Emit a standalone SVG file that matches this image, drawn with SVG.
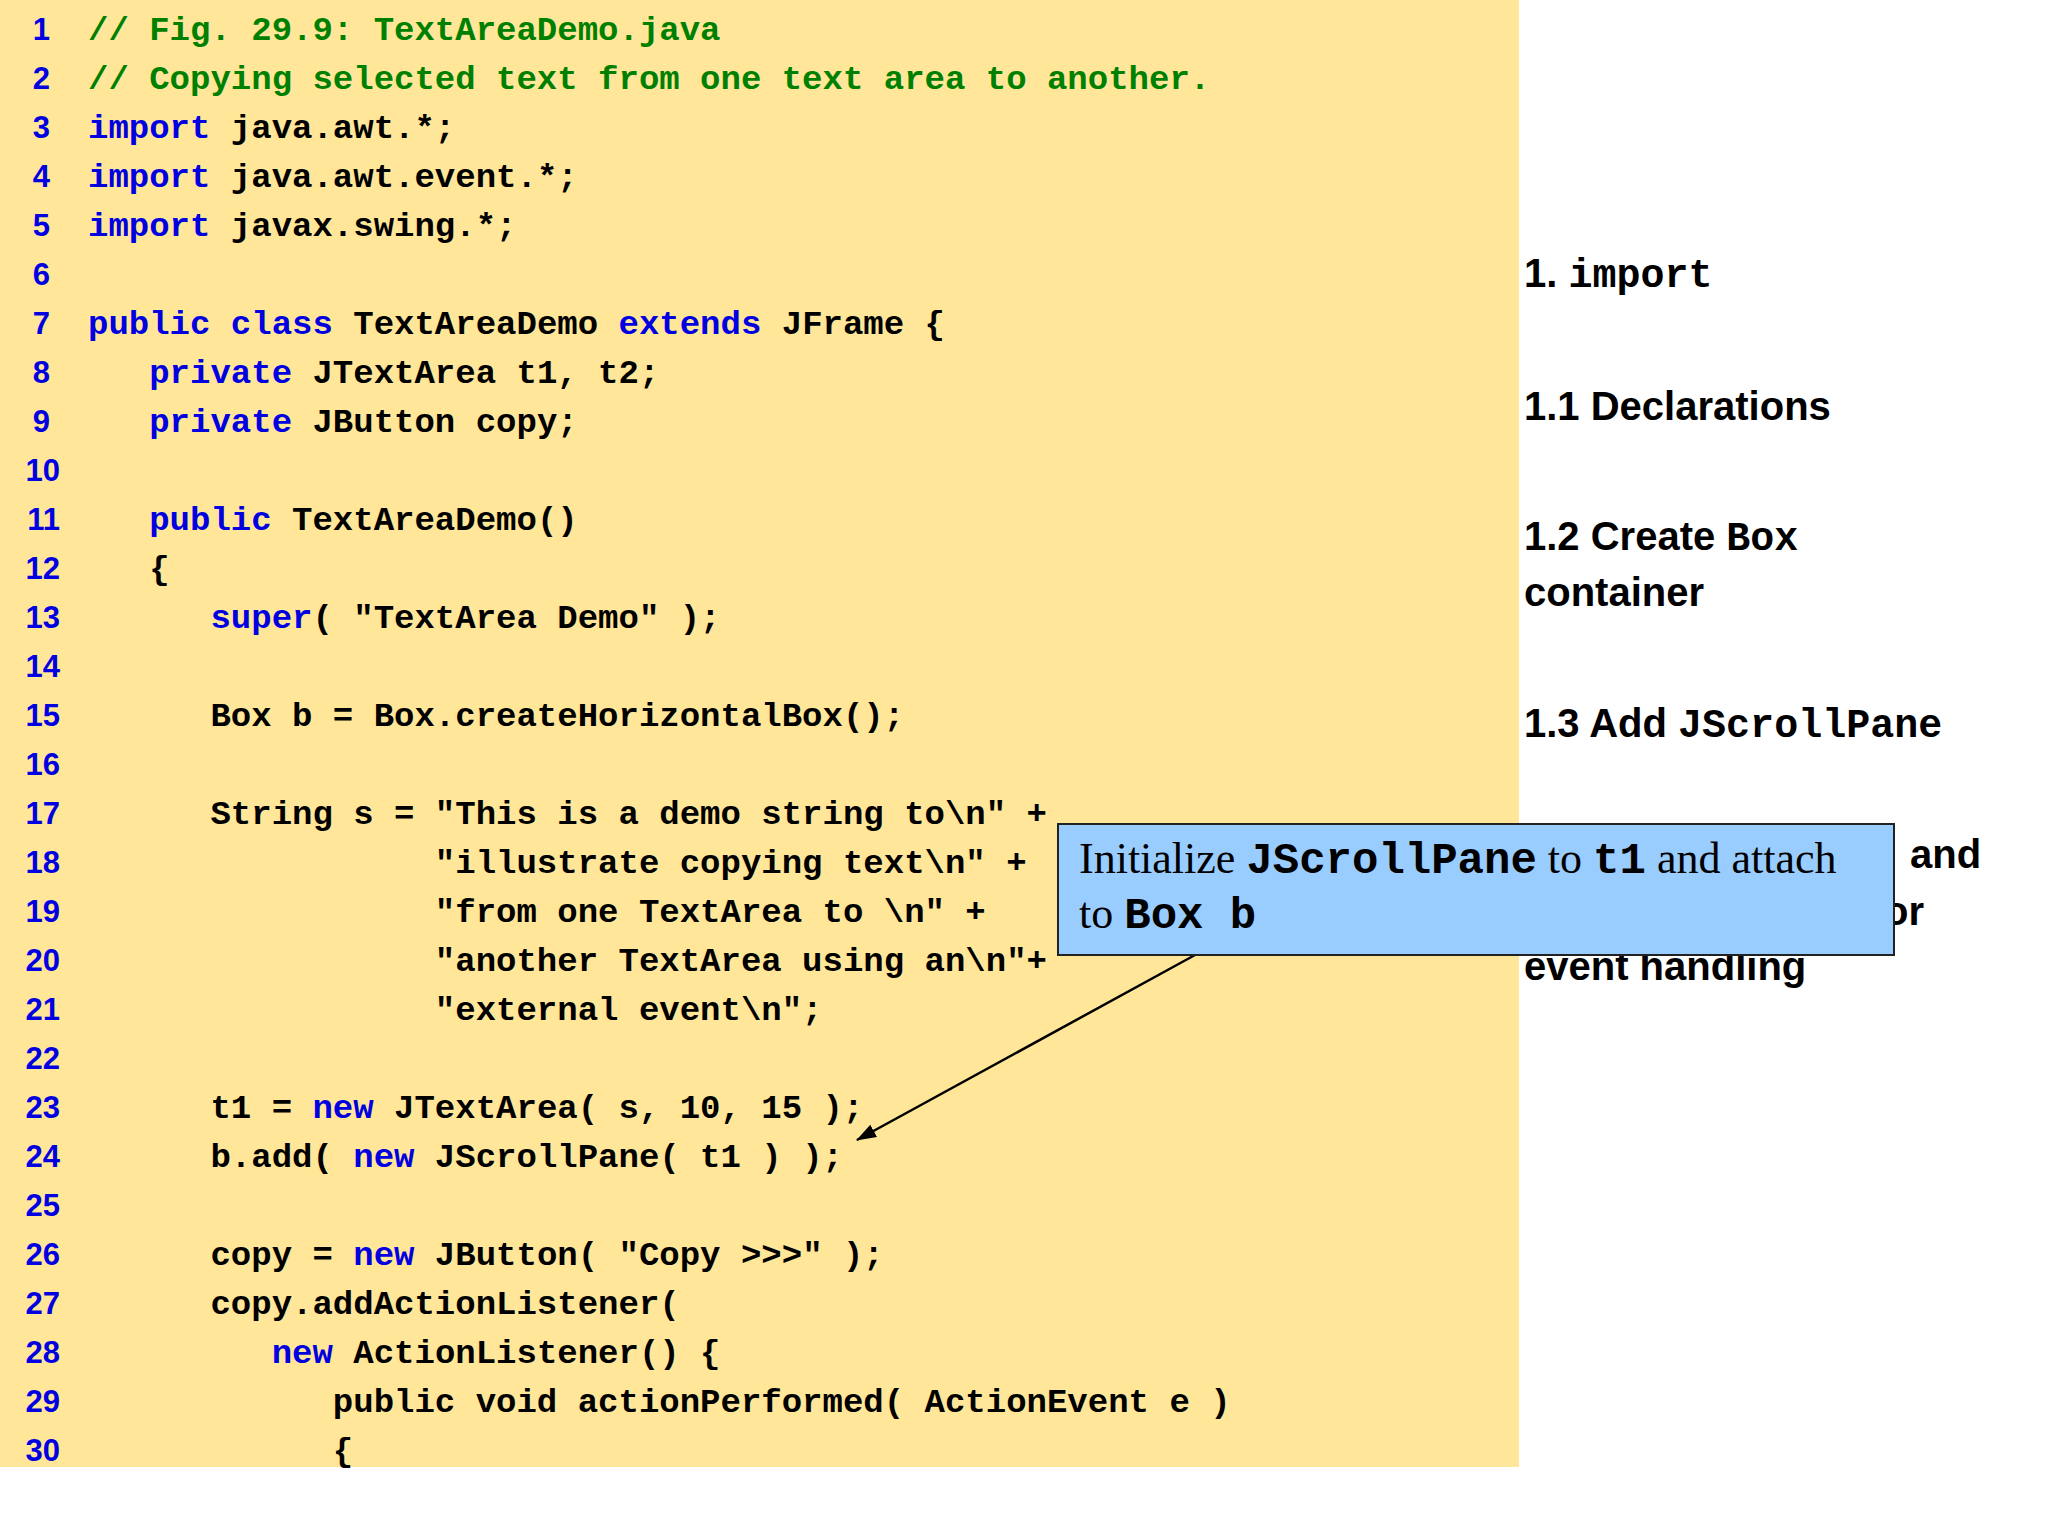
<svg xmlns="http://www.w3.org/2000/svg" width="2048" height="1536" viewBox="0 0 2048 1536">
<style>
.n{font-family:"Liberation Sans",Arial,sans-serif;font-weight:bold;font-size:31px;fill:#0000E0;text-anchor:end}
.c{font-family:"Liberation Mono","Courier New",monospace;font-weight:bold;font-size:34px;fill:#000;white-space:pre}
.k{fill:#0000E0}.g{fill:#008000}
.r{font-family:"Liberation Sans",Arial,sans-serif;font-weight:bold;font-size:40px;fill:#000}
.m{font-family:"Liberation Mono","Courier New",monospace !important;font-weight:bold}
.t{font-family:"Liberation Serif","Times New Roman",serif;font-size:44px;fill:#000}
</style>
<defs><marker id="ah" markerWidth="20" markerHeight="14" refX="19" refY="7" orient="auto" markerUnits="userSpaceOnUse"><path d="M0,0 L20,7 L0,14 z" fill="#000"/></marker></defs>
<rect width="2048" height="1536" fill="#fff"/>
<g id="code">
<rect x="0" y="0" width="1519" height="1467" fill="#FFE699"/>
<g>
<text class="n" x="50" y="40">1</text><text class="n" x="50" y="89">2</text><text class="n" x="50" y="138">3</text><text class="n" x="50" y="187">4</text><text class="n" x="50" y="236">5</text><text class="n" x="50" y="285">6</text><text class="n" x="50" y="334">7</text><text class="n" x="50" y="383">8</text><text class="n" x="50" y="432">9</text><text class="n" x="60" y="481">10</text><text class="n" x="60" y="530">11</text><text class="n" x="60" y="579">12</text><text class="n" x="60" y="628">13</text><text class="n" x="60" y="677">14</text><text class="n" x="60" y="726">15</text><text class="n" x="60" y="775">16</text><text class="n" x="60" y="824">17</text><text class="n" x="60" y="873">18</text><text class="n" x="60" y="922">19</text><text class="n" x="60" y="971">20</text><text class="n" x="60" y="1020">21</text><text class="n" x="60" y="1069">22</text><text class="n" x="60" y="1118">23</text><text class="n" x="60" y="1167">24</text><text class="n" x="60" y="1216">25</text><text class="n" x="60" y="1265">26</text><text class="n" x="60" y="1314">27</text><text class="n" x="60" y="1363">28</text><text class="n" x="60" y="1412">29</text><text class="n" x="60" y="1461">30</text>
</g>
<g>
<text class="c" xml:space="preserve" x="88" y="40"><tspan class="g">// Fig. 29.9: TextAreaDemo.java</tspan></text>
<text class="c" xml:space="preserve" x="88" y="89"><tspan class="g">// Copying selected text from one text area to another.</tspan></text>
<text class="c" xml:space="preserve" x="88" y="138"><tspan class="k">import</tspan> java.awt.*;</text>
<text class="c" xml:space="preserve" x="88" y="187"><tspan class="k">import</tspan> java.awt.event.*;</text>
<text class="c" xml:space="preserve" x="88" y="236"><tspan class="k">import</tspan> javax.swing.*;</text>
<text class="c" xml:space="preserve" x="88" y="334"><tspan class="k">public class</tspan> TextAreaDemo <tspan class="k">extends</tspan> JFrame {</text>
<text class="c" xml:space="preserve" x="88" y="383">   <tspan class="k">private</tspan> JTextArea t1, t2;</text>
<text class="c" xml:space="preserve" x="88" y="432">   <tspan class="k">private</tspan> JButton copy;</text>
<text class="c" xml:space="preserve" x="88" y="530">   <tspan class="k">public</tspan> TextAreaDemo()</text>
<text class="c" xml:space="preserve" x="88" y="579">   {</text>
<text class="c" xml:space="preserve" x="88" y="628">      <tspan class="k">super</tspan>( "TextArea Demo" );</text>
<text class="c" xml:space="preserve" x="88" y="726">      Box b = Box.createHorizontalBox();</text>
<text class="c" xml:space="preserve" x="88" y="824">      String s = "This is a demo string to\n" +</text>
<text class="c" xml:space="preserve" x="88" y="873">                 "illustrate copying text\n" +</text>
<text class="c" xml:space="preserve" x="88" y="922">                 "from one TextArea to \n" +</text>
<text class="c" xml:space="preserve" x="88" y="971">                 "another TextArea using an\n"+</text>
<text class="c" xml:space="preserve" x="88" y="1020">                 "external event\n";</text>
<text class="c" xml:space="preserve" x="88" y="1118">      t1 = <tspan class="k">new</tspan> JTextArea( s, 10, 15 );</text>
<text class="c" xml:space="preserve" x="88" y="1167">      b.add( <tspan class="k">new</tspan> JScrollPane( t1 ) );</text>
<text class="c" xml:space="preserve" x="88" y="1265">      copy = <tspan class="k">new</tspan> JButton( "Copy &gt;&gt;&gt;" );</text>
<text class="c" xml:space="preserve" x="88" y="1314">      copy.addActionListener(</text>
<text class="c" xml:space="preserve" x="88" y="1363">         <tspan class="k">new</tspan> ActionListener() {</text>
<text class="c" xml:space="preserve" x="88" y="1412">            public void actionPerformed( ActionEvent e )</text>
<text class="c" xml:space="preserve" x="88" y="1461">            {</text>
</g>
</g>
<g id="outline">
<text class="r" x="1524" y="287">1. <tspan font-family="Liberation Mono, monospace">import</tspan></text>
<text class="r" x="1524" y="420">1.1 Declarations</text>
<text class="r" x="1524" y="550">1.2 Create <tspan font-family="Liberation Mono, monospace">Box</tspan></text>
<text class="r" x="1524" y="606">container</text>
<text class="r" x="1524" y="737">1.3 Add <tspan font-family="Liberation Mono, monospace">JScrollPane</tspan></text>
<text class="r" x="1910" y="868">and</text>
<text class="r" x="1884" y="925">or</text>
<text class="r" x="1524" y="980">event handling</text>
</g>
<g id="connectors">
<line x1="1195" y1="955" x2="857" y2="1140" stroke="#000" stroke-width="2.5" marker-end="url(#ah)"/>
</g>
<g id="callout">
<rect x="1058" y="824" width="836" height="131" fill="#99CCFF" stroke="#222" stroke-width="2"/>
<text class="t" x="1079" y="873">Initialize <tspan font-family="Liberation Mono, monospace" font-weight="bold">JScrollPane</tspan> to <tspan font-family="Liberation Mono, monospace" font-weight="bold">t1</tspan> and attach</text>
<text class="t" x="1079" y="928">to <tspan font-family="Liberation Mono, monospace" font-weight="bold">Box b</tspan></text>
</g>
</svg>
